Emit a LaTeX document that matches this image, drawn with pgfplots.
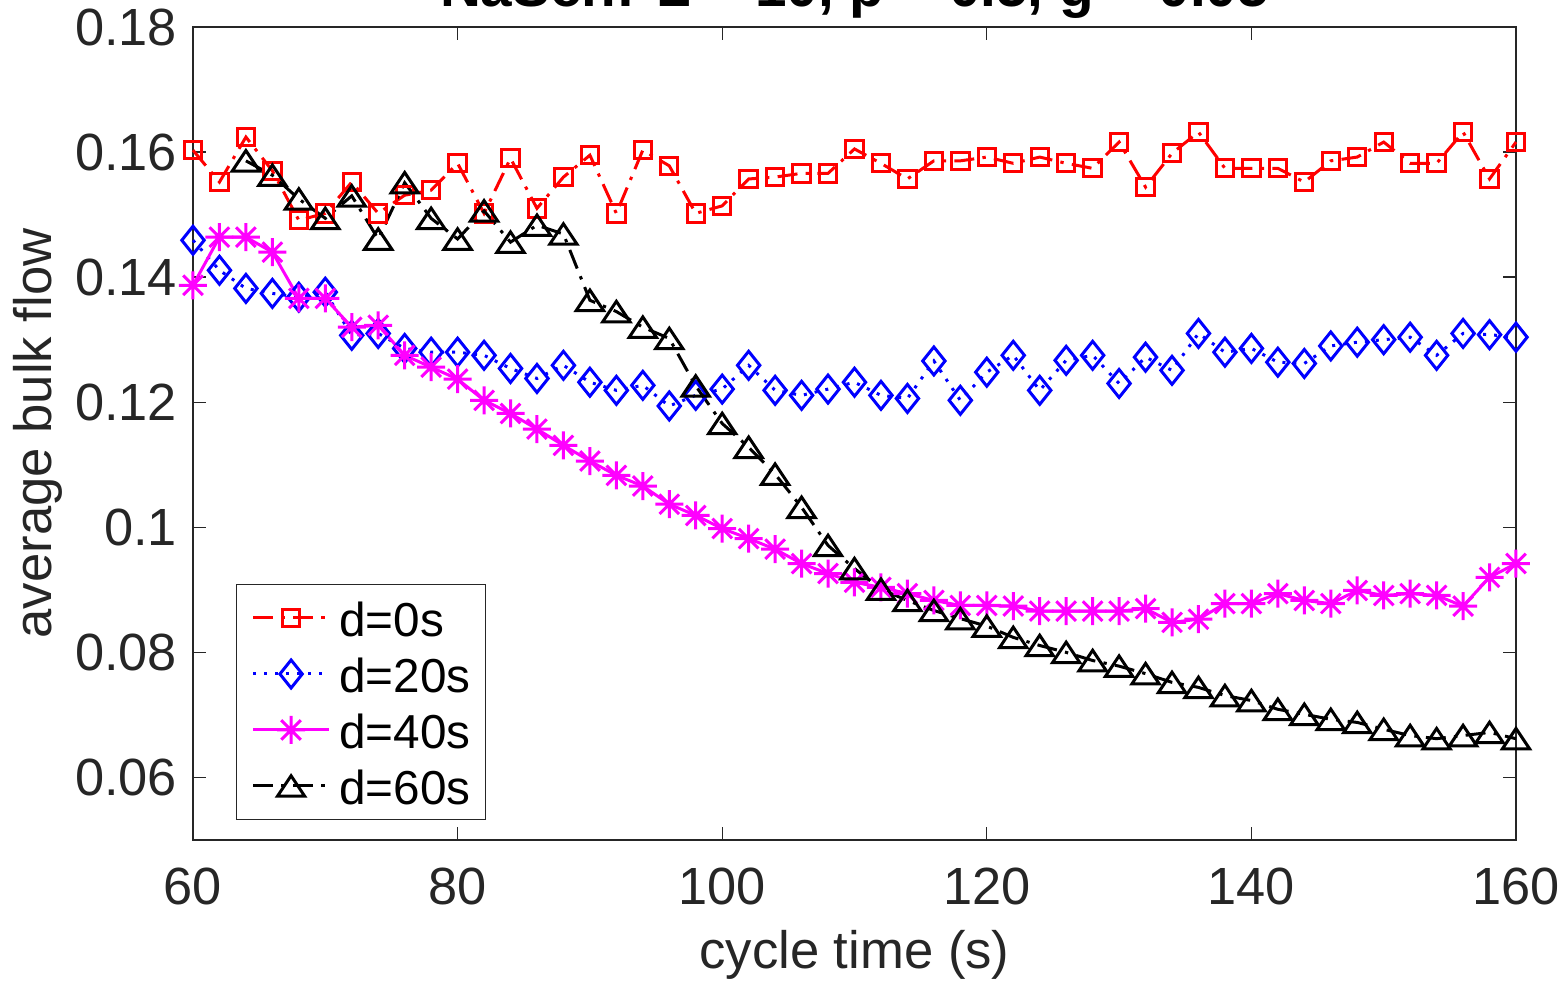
\documentclass[border=0pt]{standalone}
\usepackage{pgfplots}
\pgfplotsset{compat=1.18}
\usepackage{pgfplotstable}
\usepackage{fontspec}
\setmainfont{Liberation Sans}
\definecolor{axgray}{rgb}{0.15,0.15,0.15}
\definecolor{mred}{rgb}{1,0,0}
\definecolor{mblue}{rgb}{0,0,1}
\definecolor{mmag}{rgb}{1,0,1}

\pgfdeclareplotmark{mstar}{%
  \pgfpathmoveto{\pgfqpoint{-\pgfplotmarksize}{0pt}}\pgfpathlineto{\pgfqpoint{\pgfplotmarksize}{0pt}}%
  \pgfpathmoveto{\pgfqpoint{0pt}{-\pgfplotmarksize}}\pgfpathlineto{\pgfqpoint{0pt}{\pgfplotmarksize}}%
  \pgfpathmoveto{\pgfqpoint{-0.7\pgfplotmarksize}{-0.7\pgfplotmarksize}}\pgfpathlineto{\pgfqpoint{0.7\pgfplotmarksize}{0.7\pgfplotmarksize}}%
  \pgfpathmoveto{\pgfqpoint{-0.7\pgfplotmarksize}{0.7\pgfplotmarksize}}\pgfpathlineto{\pgfqpoint{0.7\pgfplotmarksize}{-0.7\pgfplotmarksize}}%
  \pgfusepathqstroke}
\pgfdeclareplotmark{mtri}{%
  \pgfpathmoveto{\pgfqpoint{0pt}{0.75\pgfplotmarksize}}%
  \pgfpathlineto{\pgfqpoint{-\pgfplotmarksize}{-0.75\pgfplotmarksize}}%
  \pgfpathlineto{\pgfqpoint{\pgfplotmarksize}{-0.75\pgfplotmarksize}}%
  \pgfpathclose\pgfusepathqstroke}
\pgfdeclareplotmark{mdiam}{%
  \pgfpathmoveto{\pgfqpoint{0pt}{\pgfplotmarksize}}%
  \pgfpathlineto{\pgfqpoint{-0.8\pgfplotmarksize}{0pt}}%
  \pgfpathlineto{\pgfqpoint{0pt}{-\pgfplotmarksize}}%
  \pgfpathlineto{\pgfqpoint{0.8\pgfplotmarksize}{0pt}}%
  \pgfpathclose\pgfusepathqstroke}

\pgfplotstableread{
x y
60 0.1603
62 0.1552
64 0.1624
66 0.1570
68 0.1491
70 0.1502
72 0.1552
74 0.1502
76 0.1531
78 0.1539
80 0.1582
82 0.1502
84 0.1590
86 0.1510
88 0.1560
90 0.1595
92 0.1502
94 0.1603
96 0.1578
98 0.1502
100 0.1514
102 0.1557
104 0.1560
106 0.1566
108 0.1566
110 0.1605
112 0.1582
114 0.1557
116 0.1586
118 0.1586
120 0.1592
122 0.1582
124 0.1592
126 0.1582
128 0.1574
130 0.1616
132 0.1544
134 0.1598
136 0.1632
138 0.1574
140 0.1574
142 0.1574
144 0.1552
146 0.1586
148 0.1592
150 0.1616
152 0.1582
154 0.1582
156 0.1632
158 0.1557
160 0.1616
}\dzero

\pgfplotstableread{
x y
60 0.1459
62 0.1411
64 0.1382
66 0.1374
68 0.1368
70 0.1376
72 0.1307
74 0.1310
76 0.1286
78 0.1280
80 0.1280
82 0.1275
84 0.1254
86 0.1238
88 0.1259
90 0.1232
92 0.1219
94 0.1227
96 0.1194
98 0.1211
100 0.1221
102 0.1259
104 0.1219
106 0.1211
108 0.1221
110 0.1232
112 0.1211
114 0.1206
116 0.1266
118 0.1203
120 0.1248
122 0.1275
124 0.1219
126 0.1267
128 0.1275
130 0.1230
132 0.1272
134 0.1251
136 0.1310
138 0.1280
140 0.1286
142 0.1264
144 0.1262
146 0.1290
148 0.1296
150 0.1300
152 0.1304
154 0.1275
156 0.1310
158 0.1308
160 0.1304
}\dtwenty

\pgfplotstableread{
x y
60 0.1387
62 0.1464
64 0.1464
66 0.1440
68 0.1366
70 0.1366
72 0.1320
74 0.1323
76 0.1275
78 0.1256
80 0.1237
82 0.1203
84 0.1182
86 0.1157
88 0.1131
90 0.1106
92 0.1083
94 0.1066
96 0.1037
98 0.1019
100 0.0998
102 0.0982
104 0.0965
106 0.0942
108 0.0926
110 0.0912
112 0.0904
114 0.0894
116 0.0883
118 0.0875
120 0.0875
122 0.0874
124 0.0866
126 0.0866
128 0.0866
130 0.0866
132 0.0870
134 0.0848
136 0.0853
138 0.0878
140 0.0878
142 0.0894
144 0.0883
146 0.0878
148 0.0899
150 0.0891
152 0.0894
154 0.0891
156 0.0874
158 0.0920
160 0.0942
}\dforty

\pgfplotstableread{
x y
64 0.1586
66 0.1563
68 0.1525
70 0.1494
72 0.1530
74 0.1461
76 0.1551
78 0.1494
80 0.1461
82 0.1506
84 0.1456
86 0.1483
88 0.1469
90 0.1363
92 0.1345
94 0.1320
96 0.1302
98 0.1226
100 0.1166
102 0.1128
104 0.1085
106 0.1032
108 0.0971
110 0.0934
112 0.0901
114 0.0883
116 0.0867
118 0.0854
120 0.0842
122 0.0824
124 0.0811
126 0.0800
128 0.0787
130 0.0778
132 0.0766
134 0.0752
136 0.0744
138 0.0731
140 0.0723
142 0.0709
144 0.0701
146 0.0693
148 0.0688
150 0.0677
152 0.0667
154 0.0662
156 0.0667
158 0.0672
160 0.0662
}\dsixty

\begin{document}
\begin{tikzpicture}
\begin{axis}[
  name=ax,
  scale only axis,
  width=396.9pt, height=243.9pt,
  xmin=60, xmax=160, ymin=0.05, ymax=0.18,
  xtick={60,80,...,160},
  ytick={0.06,0.08,0.1,0.12,0.14,0.16,0.18},
  yticklabels={0.06,0.08,0.1,0.12,0.14,0.16,0.18},
  tick align=inside,
  major tick length=4pt,
  tick style={axgray, line width=0.4pt},
  axis line style={axgray, line width=0.4pt},
  every tick label/.append style={font=\fontsize{15.7}{18}\selectfont, text=axgray},
  /pgf/number format/assume math mode=true,
  xticklabel style={yshift=-5pt},
  yticklabel style={xshift=-1.3pt},
  xlabel={cycle time (s)},
  ylabel={average bulk flow},
  label style={font=\fontsize{15.8}{19}\selectfont, text=axgray},
  xlabel style={at={(axis description cs:0.5,-0.1415)}, anchor=center},
  ylabel style={at={(axis description cs:-0.1172,0.5)}, anchor=center, rotate=0},
  title={\bfseries NaSch: L = 10, p = 0.5, g = 0.05},
  title style={font=\fontsize{17}{20}\selectfont\bfseries, at={(axis description cs:0.5,1)}, anchor=base, yshift=0pt},
  clip=false,
  legend cell align=left,
  legend style={
    at={(0.0325,0.0246)}, anchor=south west,
    draw=axgray, line width=0.4pt,
    font=\fontsize{14.3}{17}\selectfont,
    inner xsep=4.5pt, inner ysep=1.6pt,
    row sep=0pt,
    nodes={inner sep=0pt, text height=14pt, text depth=2.8pt},
    /tikz/every odd column/.append style={column sep=2.6pt},
  },
  legend image code/.code={%
    \draw[mark repeat=2,mark phase=2] plot coordinates {(0cm,0cm) (0.4cm,0cm) (0.8cm,0cm)};},
]
\addplot[mred, line width=0.9pt, dash pattern=on 6pt off 2.5pt on 1pt off 2.5pt,
  mark=square, mark size=2.6pt, mark options={solid}] table {\dzero};
\addlegendentry{d=0s}
\addplot[mblue, line width=0.9pt, dash pattern=on 0.9pt off 2.4pt,
  mark=mdiam, mark size=4.2pt, mark options={solid}] table {\dtwenty};
\addlegendentry{d=20s}
\addplot[mmag, line width=0.9pt, solid,
  mark=mstar, mark size=4.2pt, mark options={solid}] table {\dforty};
\addlegendentry{d=40s}
\addplot[black, line width=0.9pt, dash pattern=on 6pt off 2.5pt on 1pt off 2.5pt,
  mark=mtri, mark size=4.1pt, mark options={solid}] table {\dsixty};
\addlegendentry{d=60s}
\end{axis}
\pgfresetboundingbox
\path[use as bounding box] ([shift={(-57.9pt,-42.3pt)}]ax.south west) rectangle ([shift={(14.7pt,8.1pt)}]ax.north east);
\end{tikzpicture}
\end{document}
